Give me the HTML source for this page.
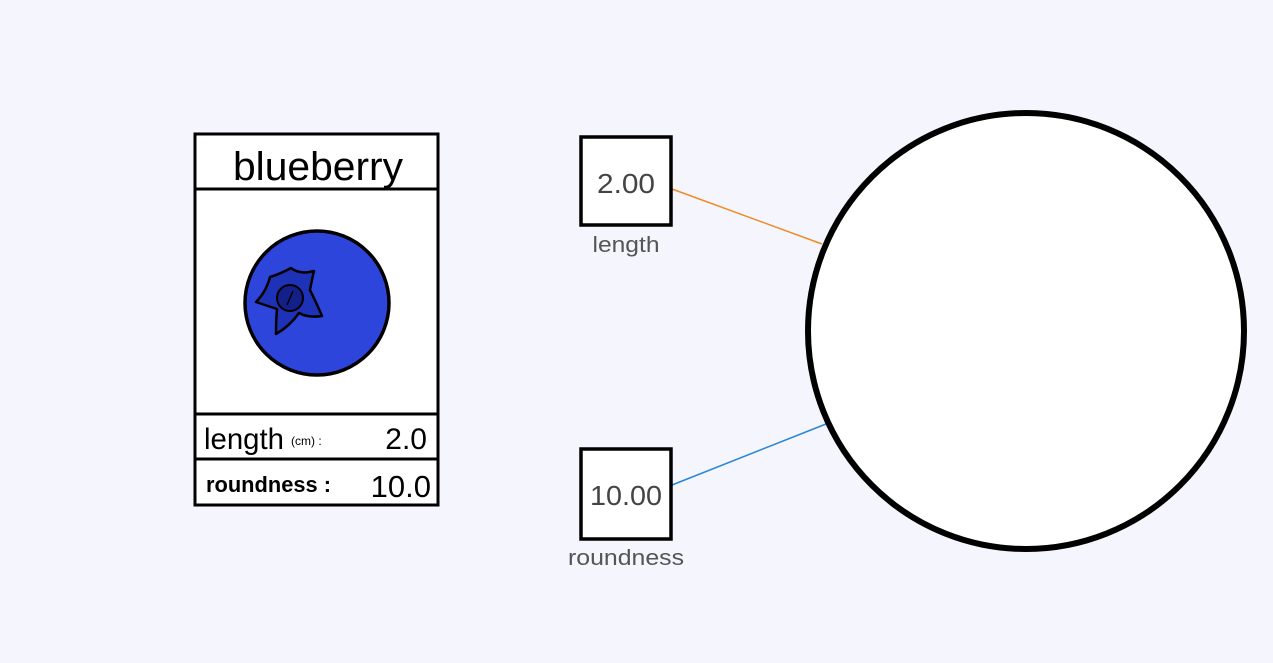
<!DOCTYPE html>
<html><head><meta charset="utf-8"><style>
html,body{margin:0;padding:0;background:#f4f5fd;width:1273px;height:663px;overflow:hidden}
svg{display:block}
</style></head><body>
<svg width="1273" height="663" viewBox="0 0 1273 663">
<rect x="0" y="0" width="1273" height="663" fill="#f4f5fd"/>
<g>
<rect x="195" y="134" width="243" height="371" fill="#fff" stroke="#000" stroke-width="3"/>
<line x1="195" y1="189" x2="438" y2="189" stroke="#000" stroke-width="3"/>
<line x1="195" y1="414" x2="438" y2="414" stroke="#000" stroke-width="3"/>
<line x1="195" y1="459" x2="438" y2="459" stroke="#000" stroke-width="3"/>
<text x="233" y="180" textLength="170" lengthAdjust="spacingAndGlyphs" font-family="Liberation Sans, sans-serif" font-size="40" fill="#000">blueberry</text>
<g>
<circle cx="317" cy="303" r="72" fill="#2e45dc" stroke="#000" stroke-width="3.5"/>
<path d="M270 277 Q280 274 291 268 Q300 275 314 271 Q311 284 310 290 Q317 304 322 316 Q308 318 299 313 Q290 326 276 334 Q276 320 277 309 Q265 305 256 302 Q266 292 270 277 Z" fill="#1e32b8" stroke="#000" stroke-width="2.5" stroke-linejoin="round"/>
<circle cx="290" cy="298" r="13" fill="#14208a" stroke="#000" stroke-width="2"/>
<line x1="287" y1="305" x2="293" y2="291" stroke="#000" stroke-width="1.5"/>
</g>
<text x="204" y="449" textLength="80" lengthAdjust="spacingAndGlyphs" font-family="Liberation Sans, sans-serif" font-size="30" fill="#000">length</text>
<text x="291" y="445" font-family="Liberation Sans, sans-serif" font-size="12" fill="#000">(cm) :</text>
<text x="427" y="449" text-anchor="end" font-family="Liberation Sans, sans-serif" font-size="30" fill="#000">2.0</text>
<text x="206" y="492" textLength="125" lengthAdjust="spacingAndGlyphs" font-family="Liberation Sans, sans-serif" font-size="22" font-weight="bold" fill="#000">roundness :</text>
<text x="431" y="497" text-anchor="end" font-family="Liberation Sans, sans-serif" font-size="31" fill="#000">10.0</text>
</g>
<line x1="672" y1="189" x2="822" y2="244" stroke="#f08a24" stroke-width="1.5"/>
<line x1="672" y1="485" x2="826" y2="424" stroke="#2a86d4" stroke-width="1.5"/>
<g>
<rect x="581" y="137" width="90" height="88" fill="#fff" stroke="#000" stroke-width="3.5"/>
<text x="626" y="193" text-anchor="middle" textLength="58" lengthAdjust="spacingAndGlyphs" font-family="Liberation Sans, sans-serif" font-size="28" fill="#444">2.00</text>
</g>
<text x="626" y="252" text-anchor="middle" textLength="67" lengthAdjust="spacingAndGlyphs" font-family="Liberation Sans, sans-serif" font-size="22" fill="#555">length</text>
<g>
<rect x="581" y="449" width="90" height="90" fill="#fff" stroke="#000" stroke-width="3.5"/>
<text x="626" y="505" text-anchor="middle" textLength="72" lengthAdjust="spacingAndGlyphs" font-family="Liberation Sans, sans-serif" font-size="28" fill="#444">10.00</text>
</g>
<text x="626" y="565" text-anchor="middle" textLength="116" lengthAdjust="spacingAndGlyphs" font-family="Liberation Sans, sans-serif" font-size="22" fill="#555">roundness</text>
<circle cx="1026" cy="331" r="218" fill="#fff" stroke="#000" stroke-width="6"/>
</svg>
</body></html>
